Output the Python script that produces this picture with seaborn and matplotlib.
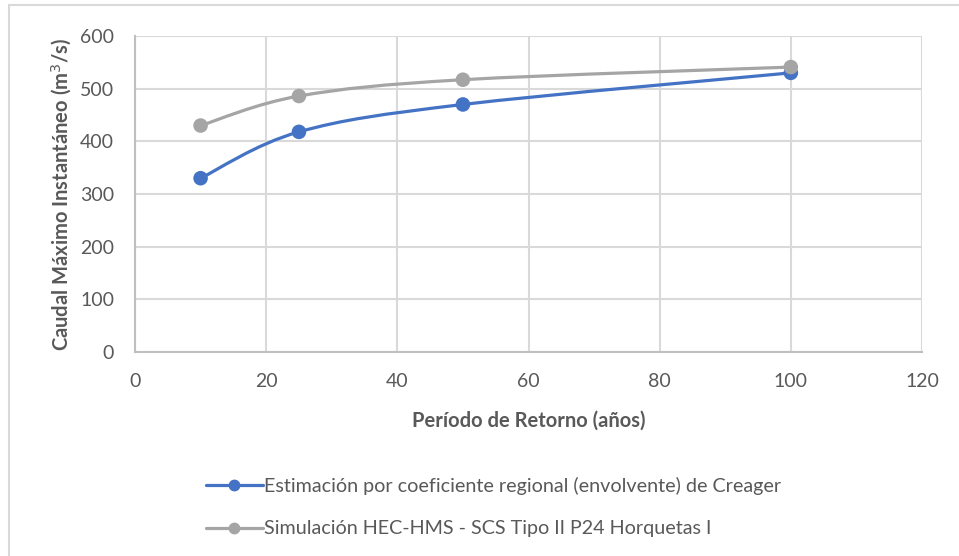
import matplotlib
matplotlib.use("Agg")
import matplotlib.pyplot as plt
from matplotlib.path import Path
from matplotlib.patches import PathPatch
from matplotlib.lines import Line2D
import seaborn as sns
import pandas as pd
import numpy as np

periods = [10, 25, 50, 100]
creager = [330, 418, 470, 530]
hec_hms = [430, 486, 517, 541]
series_names = ["Estimación por coeficiente regional (envolvente) de Creager",
                "Simulación HEC-HMS - SCS Tipo II P24 Horquetas I"]
x_ticks = [0, 20, 40, 60, 80, 100, 120]
y_ticks = [0, 100, 200, 300, 400, 500, 600]

colors = ["#4472C4", "#A5A5A5"]
text_color = "#595959"
grid_color = "#D9D9D9"

sns.set_theme(style="white")
plt.rcParams["font.family"] = ["Lato", "DejaVu Sans"]

fig = plt.figure(figsize=(9.59, 5.56), dpi=100)
ax = fig.add_axes([135/959, 1-352/556, (922-135)/959, (352-36)/556])

df = pd.DataFrame({
    "x": periods * 2,
    "y": creager + hec_hms,
    "serie": [series_names[0]]*len(periods) + [series_names[1]]*len(periods),
})


def smooth_path(xs, ys):
    pts = np.column_stack([xs, ys]).astype(float)
    n = len(pts)
    verts = [pts[0]]
    codes = [Path.MOVETO]
    for i in range(n - 1):
        p0 = pts[i - 1] if i > 0 else pts[i]
        p1 = pts[i]
        p2 = pts[i + 1]
        p3 = pts[i + 2] if i + 2 < n else pts[i + 1]
        c1 = p1 + (p2 - p0) / 6.0
        c2 = p2 - (p3 - p1) / 6.0
        verts += [c1, c2, p2]
        codes += [Path.CURVE4] * 3
    return Path(verts, codes)


for name, ys, col in [(series_names[0], creager, colors[0]), (series_names[1], hec_hms, colors[1])]:
    ax.add_patch(PathPatch(smooth_path(periods, ys), facecolor="none", edgecolor=col,
                           lw=2.3, capstyle="round", joinstyle="round", zorder=3))

sns.scatterplot(data=df, x="x", y="y", hue="serie", palette=colors, s=110,
                edgecolor="none", ax=ax, zorder=4, legend=False)

fs = 14
ax.set_xlim(0, 120)
ax.set_ylim(0, 600)
ax.set_xticks(x_ticks)
ax.set_yticks(y_ticks)
ax.set_xticklabels([str(v) for v in x_ticks])
ax.set_yticklabels([str(v) for v in y_ticks])
ax.tick_params(axis="both", colors=text_color, labelsize=fs, length=0)
ax.tick_params(axis="y", pad=15)
ax.tick_params(axis="x", pad=15)
ax.grid(True, color=grid_color, lw=1.5)
ax.set_axisbelow(True)
for s in ["top", "right"]:
    ax.spines[s].set_visible(False)
for s in ["left", "bottom"]:
    ax.spines[s].set_color("#BFBFBF")
    ax.spines[s].set_linewidth(1.5)

ax.set_xlabel("Período de Retorno (años)", color=text_color, fontsize=14.5,
              fontweight="bold", labelpad=15)
ax.set_ylabel("Caudal Máximo Instantáneo (m$^3$/s)", color=text_color, fontsize=14.5,
              fontweight="bold", labelpad=4)

handles = [Line2D([0], [0], color=c, lw=2.3, marker="o", markersize=7.5) for c in colors]
leg = fig.legend(handles, series_names, loc="upper left", bbox_to_anchor=(188/959, 1-459/556),
                 frameon=False, fontsize=14.2, labelcolor=text_color, handlelength=2.9,
                 handletextpad=0.05, labelspacing=1.3)

# chart area border (top and left visible)
fig.add_artist(Line2D([8.5/959, 8.5/959], [0, 1-5/556], color=grid_color, lw=1.5,
                      transform=fig.transFigure))
fig.add_artist(Line2D([8.5/959, 1], [1-5/556, 1-5/556], color=grid_color, lw=1.5,
                      transform=fig.transFigure))

fig.savefig("out.png", dpi=100)
